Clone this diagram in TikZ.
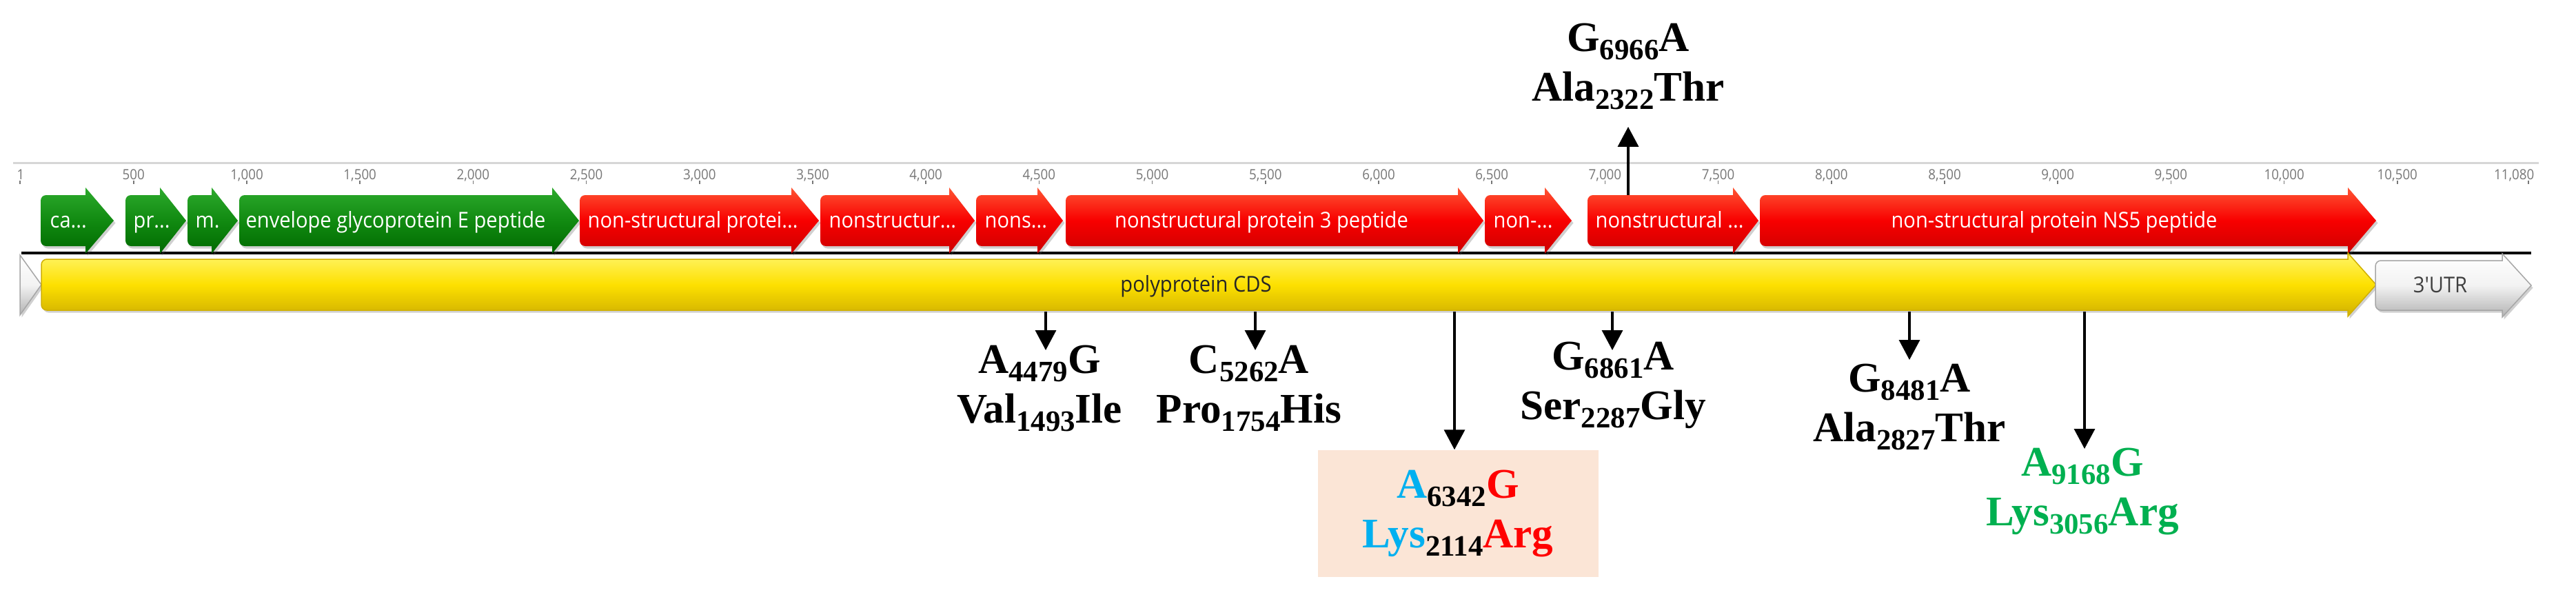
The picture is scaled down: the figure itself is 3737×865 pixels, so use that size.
\documentclass[tikz,border=0pt]{standalone}
\usepackage{fontspec}
\newfontfamily\genefont[FakeStretch=0.92]{Open Sans}
\newfontfamily\mutfont{Liberation Serif}
\usepackage{tikz}
\usetikzlibrary{arrows.meta, shadows, calc}

\definecolor{featgreenT}{HTML}{2DAA2D}
\definecolor{featgreenM}{HTML}{118A11}
\definecolor{featgreenB}{HTML}{006A00}
\definecolor{featredT}{HTML}{FF5533}
\definecolor{featredM}{HTML}{F80000}
\definecolor{featredB}{HTML}{CC0000}
\definecolor{cdsT}{HTML}{FFF56A}
\definecolor{cdsM}{HTML}{FDE000}
\definecolor{cdsB}{HTML}{D0B000}
\definecolor{rulergray}{HTML}{D6D6D6}
\definecolor{ticktext}{HTML}{777777}
\definecolor{mutblue}{HTML}{00B0F0}
\definecolor{mutred}{HTML}{FF0000}
\definecolor{mutgreen}{HTML}{00B050}
\definecolor{boxpeach}{HTML}{FBE5D6}

\tikzset{
  featshadow/.style={drop shadow={shadow xshift=0.25mm, shadow yshift=-0.35mm, opacity=0.3, fill=black!60}},
  greenfeat/.style={featshadow, top color=featgreenT, bottom color=featgreenB, middle color=featgreenM},
  redfeat/.style={featshadow, top color=featredT, bottom color=featredB, middle color=featredM},
  cdsfeat/.style={featshadow, top color=cdsT, bottom color=cdsB, middle color=cdsM, draw=cdsB, line width=0.15mm},
  utrfeat/.style={featshadow, top color=white, bottom color=black!30, middle color=black!5, draw=black!35, line width=0.15mm},
  featlabel/.style={font=\genefont\fontsize{9}{10}\selectfont, text=white, inner sep=0, anchor=base},
  ticklabel/.style={font=\genefont\fontsize{5.8}{6}\selectfont, text=ticktext, inner sep=0, anchor=base},
  tickmark/.style={ticktext, line width=0.15mm},
  mutlabel/.style={font=\mutfont\bfseries\fontsize{17.4}{20.6}\selectfont, align=center, inner sep=0, anchor=north},
  mutbox/.style={mutlabel, anchor=center, fill=boxpeach, minimum width=40.7mm, minimum height=18.4mm},
  mutarrow/.style={line width=0.35mm, -{Triangle[length=2.9mm, width=3mm]}}
}

% style, left, base, tip, top, bottom, flange
\newcommand{\featpath}[7]{%
  \pgfmathsetmacro{\fmid}{(#5+#6)/2}%
  \pgfmathsetmacro{\fcut}{#3-12}%
  \pgfmathsetmacro{\ftop}{#5-#7}%
  \pgfmathsetmacro{\fbot}{#6+#7}%
  \path[#1] (#2,\fmid) [rounded corners=0.8mm] -- (#2,#5) -- (\fcut,#5) [sharp corners] -- (#3,#5) -- (#3,\ftop) -- (#4,\fmid) -- (#3,\fbot) -- (#3,#6) -- (\fcut,#6) [rounded corners=0.8mm] -- (#2,#6) -- cycle;
}
\newcommand{\mutsub}[1]{\raisebox{-0.2em}{\fontsize{12.2}{12}\selectfont #1}}

\begin{document}
\begin{tikzpicture}[x=0.1mm, y=-0.1mm]
  \fill[white] (0,0) rectangle (3737,865);
  \useasboundingbox (0,0) rectangle (3737,865);

  % --- Ruler ---
  \draw[rulergray, line width=0.3mm] (19,236) -- (3683,236);
  \node[ticklabel] (tick1) at (30,260) {1};
  \draw[tickmark] (29,262) -- (29,267);
  \foreach \p/\lbl in {500/500, 1000/{1,000}, 1500/{1,500}, 2000/{2,000}, 2500/{2,500}, 3000/{3,000}, 3500/{3,500}, 4000/{4,000}, 4500/{4,500}, 5000/{5,000}, 5500/{5,500}, 6000/{6,000}, 6500/{6,500}, 7000/{7,000}, 7500/{7,500}, 8000/{8,000}, 8500/{8,500}, 9000/{9,000}, 9500/{9,500}, 10000/{10,000}, 10500/{10,500}} {
    \pgfmathsetmacro{\tx}{29.6+0.3284*\p}
    \node[ticklabel] (tick\p) at (\tx,260) {\lbl};
    \draw[tickmark] (\tx,262) -- (\tx,267);
  }
  \node[ticklabel, anchor=base east] (tick11080) at (3677,260) {11,080};
  \draw[tickmark] (3668,262) -- (3668,267);

  % --- Sequence line ---
  \draw[line width=0.4mm] (31,367) -- (3672,367);

  % --- Features ---
  \featpath{greenfeat}{59}{124}{165}{283}{357}{11}
  \featpath{greenfeat}{182}{232}{270}{283}{357}{11}
  \featpath{greenfeat}{272}{307}{345}{283}{357}{11}
  \featpath{greenfeat}{347}{801}{840}{283}{357}{11}
  \featpath{redfeat}{841}{1148}{1188}{283}{357}{11}
  \featpath{redfeat}{1190}{1377}{1414}{283}{357}{11}
  \featpath{redfeat}{1416}{1505}{1542}{283}{357}{11}
  \featpath{redfeat}{1546}{2115}{2152}{283}{357}{11}
  \featpath{redfeat}{2154}{2241}{2280}{283}{357}{11}
  \featpath{redfeat}{2303}{2514}{2551}{283}{357}{11}
  \featpath{redfeat}{2553}{3406}{3447}{283}{357}{11}

  \path[utrfeat] (29,370) -- (60,413) -- (29,457) -- cycle;
  \featpath{cdsfeat}{60}{3406}{3447}{376}{450}{9}
  \featpath{utrfeat}{3446}{3630}{3672}{378}{450}{10}

  % --- Feature labels ---
  \node[featlabel, anchor=base west] (ca) at (72,330) {ca...};
  \node[featlabel, anchor=base west] (pr) at (193,330) {pr...};
  \node[featlabel, anchor=base west] (m) at (283,330) {m.};
  \node[featlabel] (env) at (574,330) {envelope glycoprotein E peptide};
  \node[featlabel, anchor=base west] (ns1) at (852,330) {non-structural protei...};
  \node[featlabel, anchor=base west] (ns2a) at (1202,330) {nonstructur...};
  \node[featlabel, anchor=base west] (ns2b) at (1428,330) {nons...};
  \node[featlabel] (ns3) at (1830,330) {nonstructural protein 3 peptide};
  \node[featlabel, anchor=base west] (ns4a) at (2166,330) {non-...};
  \node[featlabel, anchor=base west] (ns4b) at (2314,330) {nonstructural ...};
  \node[featlabel] (ns5) at (2980,330) {non-structural protein NS5 peptide};
  \node[featlabel, text=black!85] (cds) at (1735,423) {polyprotein CDS};
  \node[featlabel, text=black!75] (utr3) at (3540,424) {3'UTR};

  % --- Mutations ---
  \coordinate (s4479) at (1517,452);
  \coordinate (s5262) at (1821,452);
  \coordinate (s6342) at (2110,452);
  \coordinate (s6861) at (2339,452);
  \coordinate (s8481) at (2770,452);
  \coordinate (s9168) at (3024,452);
  \coordinate (s6966) at (2362,283);

  \node[mutlabel] (m4479) at (1508,500) {A\mutsub{4479}G\\Val\mutsub{1493}Ile};
  \node[mutlabel] (m5262) at (1812,500) {C\mutsub{5262}A\\Pro\mutsub{1754}His};
  \node[mutbox] (m6342) at (2115,745) {\textcolor{mutblue}{A}\mutsub{6342}\textcolor{mutred}{G}\\\textcolor{mutblue}{Lys}\mutsub{2114}\textcolor{mutred}{Arg}};
  \node[mutlabel] (m6861) at (2340,495) {G\mutsub{6861}A\\Ser\mutsub{2287}Gly};
  \node[mutlabel] (m8481) at (2770,527) {G\mutsub{8481}A\\Ala\mutsub{2827}Thr};
  \node[mutlabel, text=mutgreen] (m9168) at (3021,649) {A\mutsub{9168}G\\Lys\mutsub{3056}Arg};
  \node[mutlabel] (m6966) at (2362,33) {G\mutsub{6966}A\\Ala\mutsub{2322}Thr};

  \draw[mutarrow, shorten >=-0.8mm] (s4479) -- (s4479 |- m4479.north);
  \draw[mutarrow, shorten >=-0.8mm] (s5262) -- (s5262 |- m5262.north);
  \draw[mutarrow] (s6342) -- (s6342 |- m6342.north);
  \draw[mutarrow, shorten >=-1.3mm] (s6861) -- (s6861 |- m6861.north);
  \draw[mutarrow, shorten >=0.5mm] (s8481) -- (s8481 |- m8481.north);
  \draw[mutarrow, shorten >=-0.2mm] (s9168) -- (s9168 |- m9168.north);
  \draw[mutarrow, shorten >=2.4mm] (s6966) -- (s6966 |- m6966.south);
\end{tikzpicture}
\end{document}
